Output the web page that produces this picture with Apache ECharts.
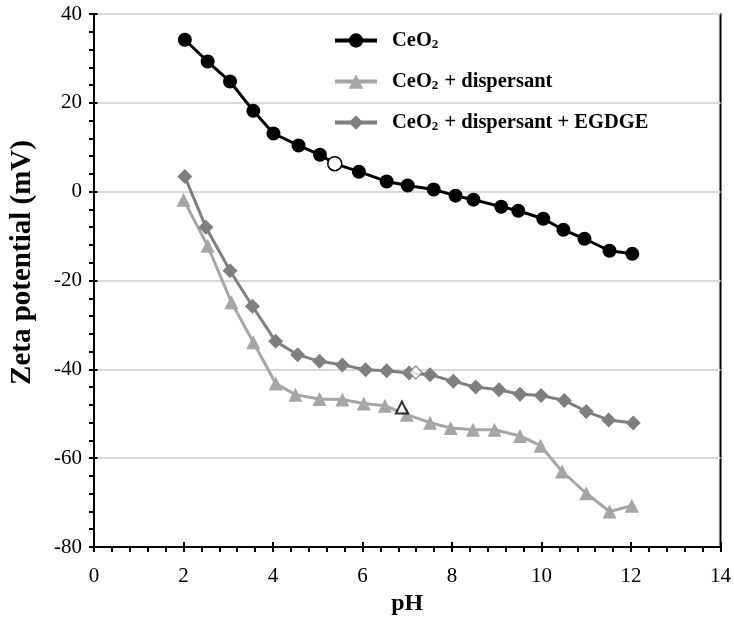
<!DOCTYPE html>
<html>
<head>
<meta charset="utf-8">
<script src="https://cdn.jsdelivr.net/npm/echarts@6/dist/echarts.min.js"></script>
<style>html,body{margin:0;padding:0;background:#fff}#c{width:734px;height:622px}</style>
</head>
<body>
<div id="c"></div>
<script>
// Series names
const seriesNames = ['CeO2', 'CeO2 + dispersant', 'CeO2 + dispersant + EGDGE'];

// CeO2 (black circles); index 7 is the open marker
const phCeO2   = [2.03, 2.54, 3.04, 3.56, 4.01, 4.57, 5.05, 5.38, 5.92, 6.54, 7.01, 7.59, 8.08, 8.48, 9.10, 9.48, 10.04, 10.49, 10.96, 11.52, 12.03];
const zetaCeO2 = [34.2, 29.3, 24.8, 18.2, 13.1, 10.4, 8.3, 6.3, 4.5, 2.3, 1.4, 0.5, -0.9, -1.8, -3.4, -4.3, -6.1, -8.6, -10.6, -13.3, -14.0];
const openIdxCeO2 = 7;

// CeO2 + dispersant (light gray triangles)
const phDisp   = [2.00, 2.54, 3.07, 3.56, 4.06, 4.50, 5.04, 5.55, 6.03, 6.50, 6.99, 7.51, 7.97, 8.47, 8.95, 9.52, 9.98, 10.46, 11.00, 11.52, 12.02];
const zetaDisp = [-1.8, -12.2, -24.9, -33.9, -43.2, -45.7, -46.7, -46.8, -47.7, -48.2, -50.2, -52.0, -53.2, -53.6, -53.6, -55.0, -57.2, -63.0, -67.9, -72.0, -70.7];
const openDisp = [6.88, -48.6];

// CeO2 + dispersant + EGDGE (gray diamonds)
const phEg   = [2.03, 2.50, 3.04, 3.54, 4.06, 4.55, 5.04, 5.55, 6.07, 6.54, 7.04, 7.51, 8.03, 8.53, 9.05, 9.52, 9.99, 10.51, 11.00, 11.50, 12.05];
const zetaEg = [3.4, -8.0, -17.8, -25.8, -33.7, -36.7, -38.2, -39.0, -40.1, -40.3, -40.8, -41.2, -42.7, -44.0, -44.6, -45.6, -45.9, -47.0, -49.5, -51.4, -52.1];
const openEg = [7.19, -40.7];

// Axis settings
const xMin = 0, xMax = 14, xStep = 2;
const yMin = -80, yMax = 40, yStep = 20;

const FONT = 'Liberation Serif';
const pairs = (xs, ys) => xs.map((x, i) => [x, ys[i]]);

const ceoData = pairs(phCeO2, zetaCeO2).map((p, i) => i === openIdxCeO2
  ? { value: p, itemStyle: { color: '#fff', borderColor: '#000', borderWidth: 1.5 } }
  : p);

const G = { left: 93, right: 13, top: 14, bottom: 75 };
const gridW = 734 - G.left - G.right;
const gridH = 622 - G.top - G.bottom;

const chart = echarts.init(document.getElementById('c'));
chart.setOption({
  animation: false,
  backgroundColor: '#fff',
  grid: Object.assign({ show: true, borderColor: '#000', borderWidth: 2, backgroundColor: 'transparent' }, G),
  legend: {
    data: seriesNames,
    orient: 'vertical',
    left: 328, top: 25,
    itemWidth: 42, itemHeight: 18, itemGap: 19.5,
    lineStyle: { width: 4 },
    formatter: name => '{a|CeO}{s|2}{a|' + name.slice(4) + '}',
    textStyle: {
      padding: [0, 0, 0, 10],
      rich: {
        a: { fontFamily: FONT, fontWeight: 'bold', fontSize: 20.5, color: '#000' },
        s: { fontFamily: FONT, fontWeight: 'bold', fontSize: 13, color: '#000', padding: [9, 1, 0, 0] }
      }
    }
  },
  xAxis: [{
    type: 'value', min: xMin, max: xMax, interval: xStep, position: 'bottom',
    name: 'pH', nameLocation: 'middle', nameGap: 44,
    nameTextStyle: { fontFamily: FONT, fontWeight: 'bold', fontSize: 24, color: '#000' },
    axisLine: { show: true, onZero: false, lineStyle: { color: '#000', width: 2 } },
    axisTick: { show: true, inside: false, length: 5, lineStyle: { color: '#000', width: 2 } },
    minorTick: { show: true, splitNumber: 5, length: 5, lineStyle: { color: '#000', width: 2 } },
    axisLabel: { fontFamily: FONT, fontSize: 21, color: '#000', margin: 19 },
    splitLine: { show: false }
  }, {
    type: 'value', min: xMin, max: xMax, interval: xStep, position: 'top', offset: -gridH, gridIndex: 0,
    axisLine: { show: false, onZero: false },
    axisTick: { show: true, inside: false, length: 5, lineStyle: { color: '#000', width: 2 } },
    axisLabel: { show: false }, splitLine: { show: false }
  }],
  yAxis: [{
    type: 'value', min: yMin, max: yMax, interval: yStep, position: 'left',
    name: 'Zeta potential (mV)', nameLocation: 'middle', nameGap: 57,
    nameTextStyle: { fontFamily: FONT, fontWeight: 'bold', fontSize: 29, color: '#000', padding: [0, 0, 0, 36] },
    axisLine: { show: true, onZero: false, lineStyle: { color: '#000', width: 2 } },
    axisTick: { show: true, inside: false, length: 5, lineStyle: { color: '#000', width: 2 } },
    minorTick: { show: true, splitNumber: 5, length: 5, lineStyle: { color: '#000', width: 2 } },
    axisLabel: { fontFamily: FONT, fontSize: 21, color: '#000', margin: 12 },
    splitLine: { show: true, lineStyle: { color: '#d9d9d9', width: 2 } }
  }, {
    type: 'value', min: yMin, max: yMax, interval: yStep, position: 'right', offset: -gridW, gridIndex: 0,
    axisLine: { show: false, onZero: false },
    axisTick: { show: true, inside: false, length: 5, lineStyle: { color: '#000', width: 2 } },
    axisLabel: { show: false }, splitLine: { show: false }
  }],
  series: [
    {
      name: seriesNames[1], type: 'line', data: pairs(phDisp, zetaDisp),
      symbol: 'triangle', symbolSize: 14,
      lineStyle: { color: '#a6a6a6', width: 3 }, itemStyle: { color: '#a6a6a6' }, z: 2
    },
    {
      name: seriesNames[2], type: 'line', data: pairs(phEg, zetaEg),
      symbol: 'diamond', symbolSize: 15,
      lineStyle: { color: '#7f7f7f', width: 3 }, itemStyle: { color: '#7f7f7f' }, z: 3
    },
    {
      name: seriesNames[0], type: 'line', data: ceoData,
      symbol: 'circle', symbolSize: 14,
      lineStyle: { color: '#000', width: 3 }, itemStyle: { color: '#000' }, z: 4
    },
    {
      name: 'openDisp', type: 'scatter', data: [openDisp], symbol: 'triangle', symbolSize: 12,
      itemStyle: { color: '#fff', borderColor: '#000', borderWidth: 2 }, z: 5
    },
    {
      name: 'openEg', type: 'scatter', data: [openEg], symbol: 'diamond', symbolSize: 13,
      itemStyle: { color: '#fff', borderColor: '#7f7f7f', borderWidth: 1.5 }, z: 5
    }
  ]
});
</script>
</body>
</html>
